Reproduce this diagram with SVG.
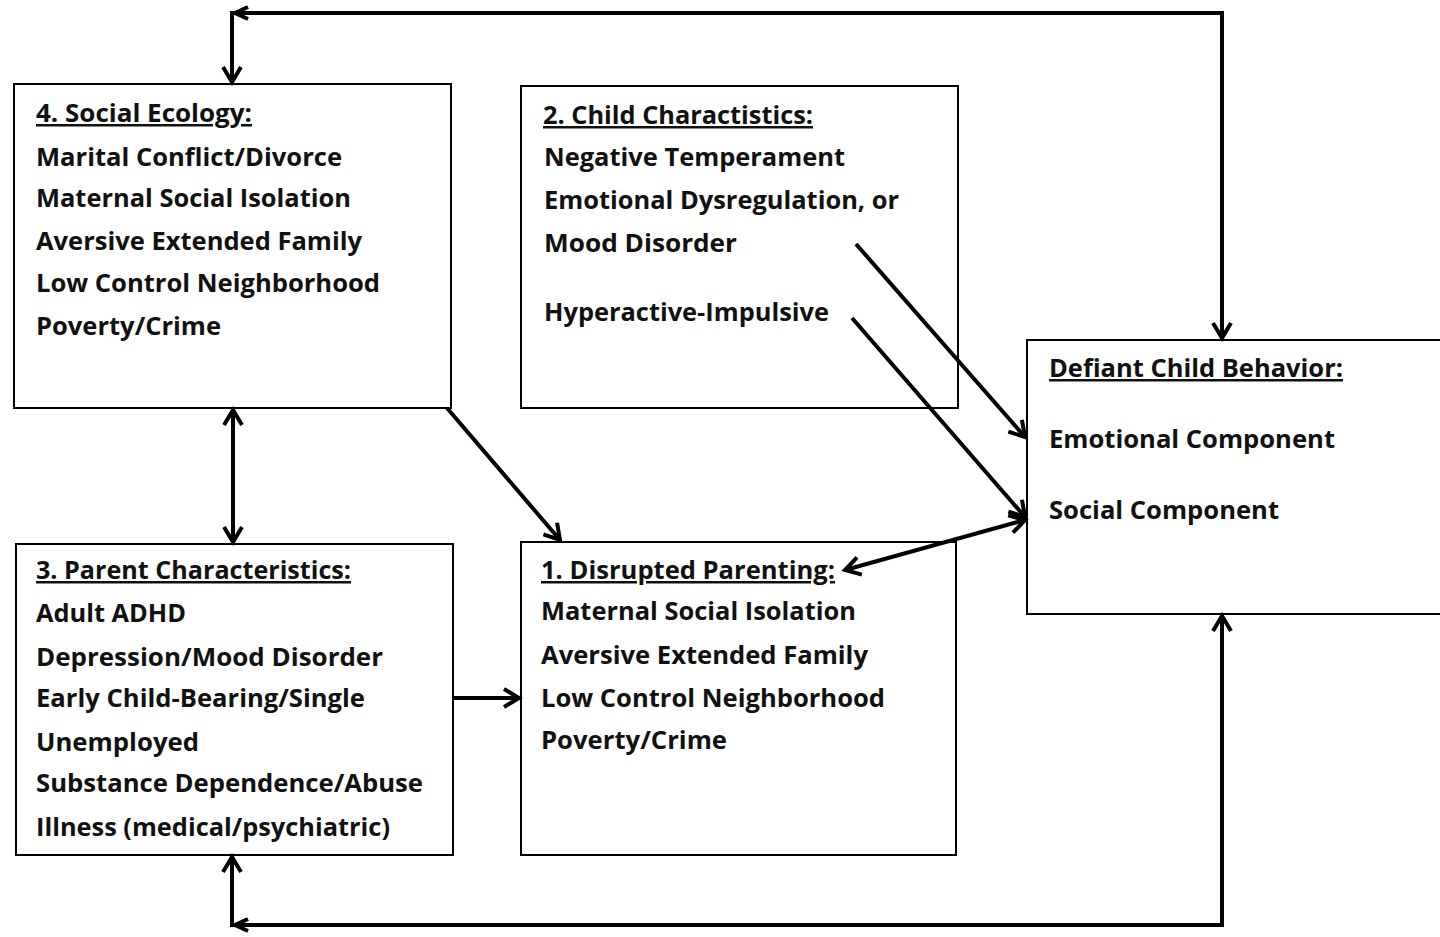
<svg xmlns="http://www.w3.org/2000/svg" width="1440" height="937" viewBox="0 0 1440 937">
<style>
.box{fill:#fff;stroke:#000;stroke-width:2}
.t{font-family:"Open Sans","Liberation Sans",sans-serif;font-weight:bold;font-size:25px;fill:#111}
.h{text-decoration:underline}
.c{fill:none;stroke:#000;stroke-width:4}
</style>
<defs>
<marker id="ah" markerUnits="userSpaceOnUse" markerWidth="30" markerHeight="30" viewBox="-20 -15 30 30" refX="0" refY="0" orient="auto-start-reverse">
<path d="M-15,-9 L0,0 L-15,9" fill="none" stroke="#000" stroke-width="4" stroke-linejoin="miter"/>
</marker>
</defs>
<rect width="1440" height="937" fill="#fff"/>
<g id="n4">
<rect class="box" x="14" y="84" width="437" height="324"/>
<text class="t h" x="36" y="122" textLength="216" lengthAdjust="spacingAndGlyphs">4. Social Ecology:</text>
<text class="t" x="36" y="166" textLength="306" lengthAdjust="spacingAndGlyphs">Marital Conflict/Divorce</text>
<text class="t" x="36" y="207" textLength="315" lengthAdjust="spacingAndGlyphs">Maternal Social Isolation</text>
<text class="t" x="36" y="250" textLength="326" lengthAdjust="spacingAndGlyphs">Aversive Extended Family</text>
<text class="t" x="36" y="292" textLength="344" lengthAdjust="spacingAndGlyphs">Low Control Neighborhood</text>
<text class="t" x="36" y="335" textLength="185" lengthAdjust="spacingAndGlyphs">Poverty/Crime</text>
</g>
<g id="n2">
<rect class="box" x="521" y="86" width="437" height="322"/>
<text class="t h" x="543" y="124" textLength="270" lengthAdjust="spacingAndGlyphs">2. Child Charactistics:</text>
<text class="t" x="544" y="166" textLength="301" lengthAdjust="spacingAndGlyphs">Negative Temperament</text>
<text class="t" x="544" y="209" textLength="355" lengthAdjust="spacingAndGlyphs">Emotional Dysregulation, or</text>
<text class="t" x="544" y="252" textLength="193" lengthAdjust="spacingAndGlyphs">Mood Disorder</text>
<text class="t" x="544" y="321" textLength="285" lengthAdjust="spacingAndGlyphs">Hyperactive-Impulsive</text>
</g>
<g id="nd">
<rect class="box" x="1027" y="340" width="440" height="274"/>
<text class="t h" x="1049" y="377" textLength="294" lengthAdjust="spacingAndGlyphs">Defiant Child Behavior:</text>
<text class="t" x="1049" y="448" textLength="286" lengthAdjust="spacingAndGlyphs">Emotional Component</text>
<text class="t" x="1049" y="519" textLength="230" lengthAdjust="spacingAndGlyphs">Social Component</text>
</g>
<g id="n3">
<rect class="box" x="16" y="544" width="437" height="311"/>
<text class="t h" x="36" y="579" textLength="315" lengthAdjust="spacingAndGlyphs">3. Parent Characteristics:</text>
<text class="t" x="36" y="622" textLength="150" lengthAdjust="spacingAndGlyphs">Adult ADHD</text>
<text class="t" x="36" y="666" textLength="347" lengthAdjust="spacingAndGlyphs">Depression/Mood Disorder</text>
<text class="t" x="36" y="707" textLength="329" lengthAdjust="spacingAndGlyphs">Early Child-Bearing/Single</text>
<text class="t" x="36" y="751" textLength="163" lengthAdjust="spacingAndGlyphs">Unemployed</text>
<text class="t" x="36" y="792" textLength="387" lengthAdjust="spacingAndGlyphs">Substance Dependence/Abuse</text>
<text class="t" x="36" y="836" textLength="354" lengthAdjust="spacingAndGlyphs">Illness (medical/psychiatric)</text>
</g>
<g id="n1">
<rect class="box" x="521" y="542" width="435" height="313"/>
<text class="t h" x="541" y="579" textLength="294" lengthAdjust="spacingAndGlyphs">1. Disrupted Parenting:</text>
<text class="t" x="541" y="620" textLength="315" lengthAdjust="spacingAndGlyphs">Maternal Social Isolation</text>
<text class="t" x="541" y="664" textLength="327" lengthAdjust="spacingAndGlyphs">Aversive Extended Family</text>
<text class="t" x="541" y="707" textLength="344" lengthAdjust="spacingAndGlyphs">Low Control Neighborhood</text>
<text class="t" x="541" y="749" textLength="186" lengthAdjust="spacingAndGlyphs">Poverty/Crime</text>
</g>
<g id="connectors">
<path class="c" d="M1222,338 V13 H232 V82" marker-start="url(#ah)" marker-end="url(#ah)"/>
<path class="c" d="M248,7 L235,13 L248,19"/>
<path class="c" d="M1222,616 V925 H232 V857" marker-start="url(#ah)" marker-end="url(#ah)"/>
<path class="c" d="M248,919 L235,925 L248,931"/>
<path class="c" d="M233,410 V542" marker-start="url(#ah)" marker-end="url(#ah)"/>
<path class="c" d="M447,408 L560,540" marker-end="url(#ah)"/>
<path class="c" d="M453,698 L519,698" marker-end="url(#ah)"/>
<path class="c" d="M856,244 L1025,437" marker-end="url(#ah)"/>
<path class="c" d="M852,318 L1025,517" marker-end="url(#ah)"/>
<path class="c" d="M845,570 L1025,520" marker-start="url(#ah)" marker-end="url(#ah)"/>
</g>
</svg>
